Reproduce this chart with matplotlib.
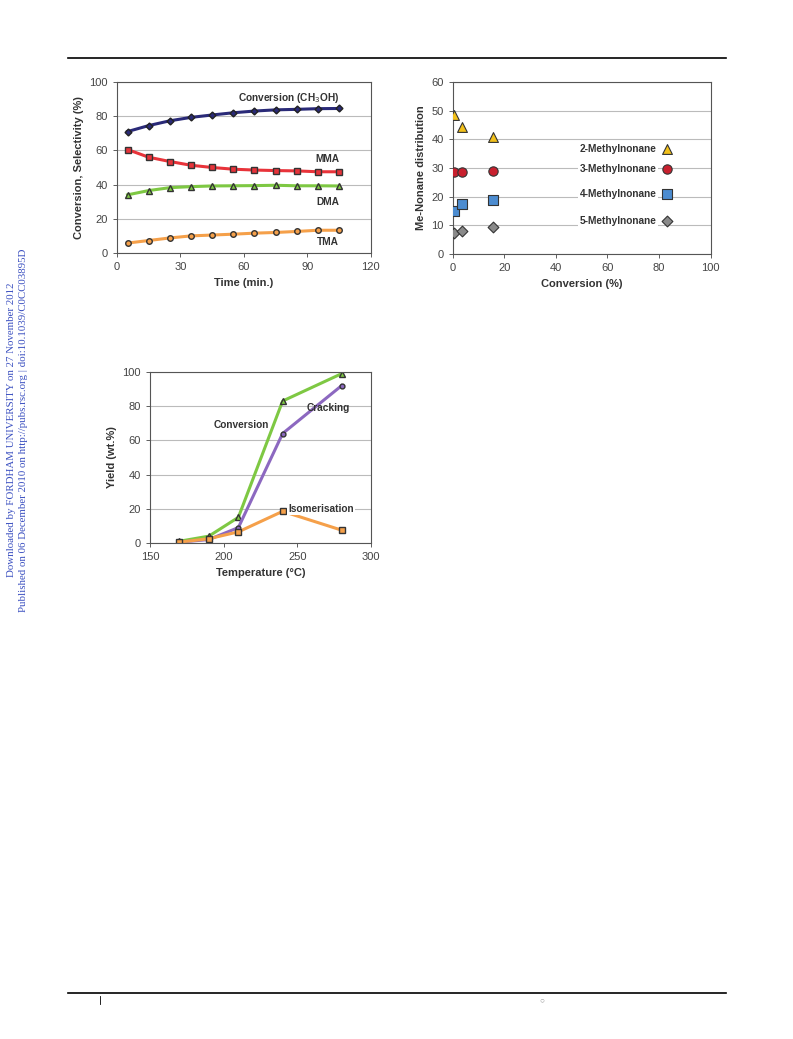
import matplotlib
matplotlib.use('Agg')
from matplotlib import pyplot as plt
from matplotlib.lines import Line2D

plt.rcParams['font.family'] = ['Liberation Sans', 'DejaVu Sans']

# Данные, график 1
time = [5, 15, 25, 35, 45, 55, 65, 75, 85, 95, 105]
conv_meoh = [71, 74.5, 77.3, 79.3, 80.7, 82, 83, 83.7, 84, 84.4, 84.5]
mma = [60.5, 56, 53.5, 51.3, 50, 49, 48.5, 48.2, 48, 47.5, 47.5]
dma = [34, 36.5, 38.2, 38.8, 39.2, 39.3, 39.4, 39.6, 39.3, 39.3, 39.2]
tma = [5.8, 7.3, 8.8, 10, 10.5, 11, 11.6, 12, 12.6, 13.3, 13.3]

# Данные, график 2
conv2 = [0.5, 3.5, 15.5]
me2 = [48.5, 44.5, 41]
me3 = [28.5, 28.5, 29]
me4 = [15, 17.5, 19]
me5 = [7.2, 8.2, 9.5]

# Данные, график 3
temp = [170, 190, 210, 240, 280]
conv3 = [1, 4, 15, 83, 99]
cracking = [0.5, 2, 9, 64, 92]
isom = [0.5, 2.5, 6.5, 18.5, 7.5]

fig = plt.figure(figsize=(7.93, 10.39), dpi=100)

def style(ax):
    for s in ax.spines.values():
        s.set_color('#555555')
        s.set_linewidth(0.8)
    ax.grid(axis='y', color='#bbbbbb', linewidth=0.8)
    ax.set_axisbelow(True)
    ax.tick_params(labelsize=8, colors='#444444', length=3, width=0.6)

tb = dict(fontsize=7.3, fontweight='bold', color='#333333')
lb = dict(fontsize=8, fontweight='bold', color='#333333')
wbox = dict(facecolor='white', edgecolor='none', pad=1)

# График 1
ax1 = fig.add_axes([0.1475, 0.7565, 0.320, 0.1646])
style(ax1)
ax1.plot(time, conv_meoh, color='#2a2a78', lw=2.2, marker='D', ms=3.5, mfc='#2a2a78', mec='#222222')
ax1.plot(time, mma, color='#e8333a', lw=2.2, marker='s', ms=4, mfc='#e8333a', mec='#333333')
ax1.plot(time, dma, color='#7ec843', lw=2.2, marker='^', ms=4, mfc='#7ec843', mec='#333333')
ax1.plot(time, tma, color='#f5a04a', lw=2.2, marker='o', ms=4, mfc='#f5a04a', mec='#333333')
ax1.set_xlim(0, 120)
ax1.set_ylim(0, 100)
ax1.set_xticks(range(0, 121, 30))
ax1.set_yticks(range(0, 101, 20))
ax1.set_xlabel('Time (min.)', **lb)
ax1.set_ylabel('Conversion, Selectivity (%)', **lb)
ax1.text(105, 90.5, 'Conversion (CH$_3$OH)', ha='right', va='center', **tb)
ax1.text(105, 55, 'MMA', ha='right', va='center', **tb)
ax1.text(105, 30, 'DMA', ha='right', va='center', **tb)
ax1.text(105, 6.5, 'TMA', ha='right', va='center', **tb)

# График 2
ax2 = fig.add_axes([0.571, 0.7555, 0.325, 0.1655])
style(ax2)
ax2.scatter(conv2, me2, marker='^', s=50, c='#f2c01a', edgecolors='#333333', linewidths=0.8, zorder=3)
ax2.scatter(conv2, me3, marker='o', s=45, c='#c8202e', edgecolors='#333333', linewidths=0.8, zorder=3)
ax2.scatter(conv2, me4, marker='s', s=42, c='#4c8cd0', edgecolors='#333333', linewidths=0.8, zorder=3)
ax2.scatter(conv2, me5, marker='D', s=30, c='#8a8a8a', edgecolors='#333333', linewidths=0.8, zorder=3)
ax2.set_xlim(0, 100)
ax2.set_ylim(0, 60)
ax2.set_xticks(range(0, 101, 20))
ax2.set_yticks(range(0, 61, 10))
ax2.set_xlabel('Conversion (%)', **lb)
ax2.set_ylabel('Me-Nonane distribution', **lb)
labels = ['2-Methylnonane', '3-Methylnonane', '4-Methylnonane', '5-Methylnonane']
ly = [36.5, 29.5, 21, 11.5]
lm = [('^', '#f2c01a', 50), ('o', '#c8202e', 45), ('s', '#4c8cd0', 42), ('D', '#8a8a8a', 30)]
for lab, y, (m, c, s) in zip(labels, ly, lm):
    ax2.text(79, y, lab, ha='right', va='center', bbox=wbox, zorder=2, **tb)
    ax2.scatter([83], [y], marker=m, s=s, c=c, edgecolors='#333333', linewidths=0.8, zorder=3)

# График 3
ax3 = fig.add_axes([0.189, 0.4774, 0.279, 0.1646])
style(ax3)
ax3.plot(temp, conv3, color='#7ec843', lw=2.2, marker='^', ms=4, mfc='#7ec843', mec='#333333')
ax3.plot(temp, cracking, color='#8c68c0', lw=2.2, marker='o', ms=3.5, mfc='#8c68c0', mec='#333333')
ax3.plot(temp, isom, color='#f5a04a', lw=2.2, marker='s', ms=4, mfc='#f5a04a', mec='#333333')
ax3.set_xlim(150, 300)
ax3.set_ylim(0, 100)
ax3.set_xticks(range(150, 301, 50))
ax3.set_yticks(range(0, 101, 20))
ax3.set_xlabel('Temperature (°C)', **lb)
ax3.set_ylabel('Yield (wt.%)', **lb)
ax3.text(212, 69, 'Conversion', ha='center', va='center', **tb)
ax3.text(271, 79, 'Cracking', ha='center', va='center', **tb)
ax3.text(266, 20, 'Isomerisation', ha='center', va='center', bbox=wbox, **tb)

# Оформление страницы
fig.add_artist(Line2D([68 / 793, 726 / 793], [1 - 58 / 1039] * 2, color='black', lw=1.2))
fig.add_artist(Line2D([68 / 793, 726 / 793], [1 - 993 / 1039] * 2, color='black', lw=1.2))
fig.add_artist(Line2D([100 / 793] * 2, [1 - 996 / 1039, 1 - 1004 / 1039], color='black', lw=0.6))
fig.text(542 / 793, 1 - 1001 / 1039, '○', fontsize=6, color='#999999', ha='center', va='center')
fig.text(12 / 793, 1 - 430 / 1039, 'Downloaded by FORDHAM UNIVERSITY on 27 November 2012',
         rotation=90, ha='center', va='center', fontsize=7.8, color='#3a4fc0', family='Liberation Serif')
fig.text(24 / 793, 1 - 430 / 1039, 'Published on 06 December 2010 on http://pubs.rsc.org | doi:10.1039/C0CC03895D',
         rotation=90, ha='center', va='center', fontsize=7.8, color='#3a4fc0', family='Liberation Serif')

fig.savefig('out.png', dpi=100)
